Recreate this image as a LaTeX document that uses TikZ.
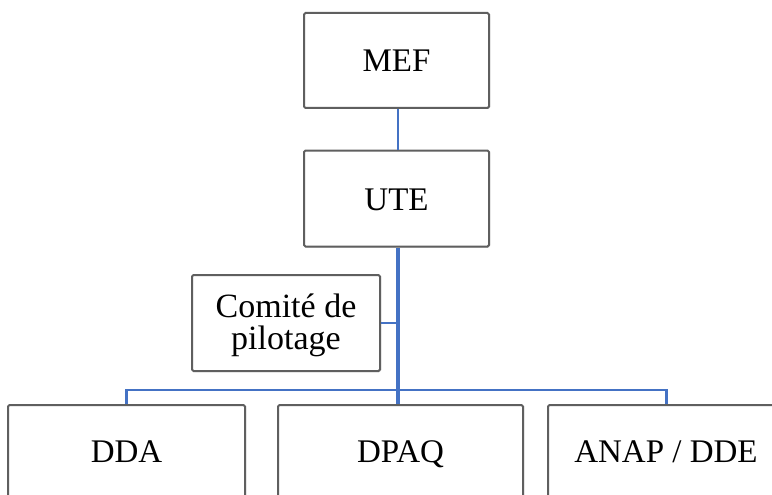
\documentclass[tikz,border=0pt]{standalone}
\usepackage{fontspec}
\setmainfont{Liberation Serif}
\usetikzlibrary{shadows}
\definecolor{linkblue}{HTML}{4472C4}
\definecolor{boxgray}{HTML}{5F5F5F}
\tikzset{
  orgbox/.style={draw=boxgray, line width=2pt, fill=white, rounded corners=1.5pt,
    drop shadow={shadow xshift=1pt, shadow yshift=-1pt, opacity=0.35},
    inner sep=0pt},
  label/.style={anchor=base, inner sep=0pt, font=\fontsize{33}{36}\selectfont, align=center},
  link/.style={draw=linkblue, line width=2.5pt},
  thinlink/.style={draw=linkblue, line width=1.6pt},
  thicklink/.style={draw=linkblue, line width=4pt}
}
\begin{document}
\begin{tikzpicture}[x=1pt,y=-1pt]
\useasboundingbox (0,0) rectangle (772,495);
\clip (0,0) rectangle (772,495);
% boxes
\node[orgbox, minimum width=185pt, minimum height=95pt] (mef) at (396.5,60.5) {};
\node[orgbox, minimum width=185pt, minimum height=96pt] (ute) at (396.5,198.5) {};
\node[orgbox, minimum width=188pt, minimum height=96pt] (comite) at (286,323) {};
\node[orgbox, minimum width=237pt, minimum height=100pt] (dda) at (126.5,455) {};
\node[orgbox, minimum width=245pt, minimum height=100pt] (dpaq) at (400.5,455) {};
\node[orgbox, minimum width=237pt, minimum height=100pt] (anap) at (666.5,455) {};
% labels
\node[label] (meft) at (396.5,72) {MEF};
\node[label] (utet) at (396.5,210) {UTE};
\node[label, font=\fontsize{34}{32}\selectfont] (comitet) at (286,349) {Comité de\\pilotage};
\node[label] (ddat) at (126.5,462) {DDA};
\node[label] (dpaqt) at (400.5,462) {DPAQ};
\node[label] (anapt) at (666,462) {ANAP / DDE};
% connectors
\coordinate (bus) at (398,390);
\coordinate (cj) at (398,323);
\draw[thinlink] (mef.south -| bus) -- (ute.north -| bus);
\draw[thinlink] (comite.east) -- (cj);
\draw[link] (dda.north) |- (bus) -| (anap.north);
\draw[thicklink] (ute.south -| bus) -- (dpaq.north -| bus);
\end{tikzpicture}
\end{document}
